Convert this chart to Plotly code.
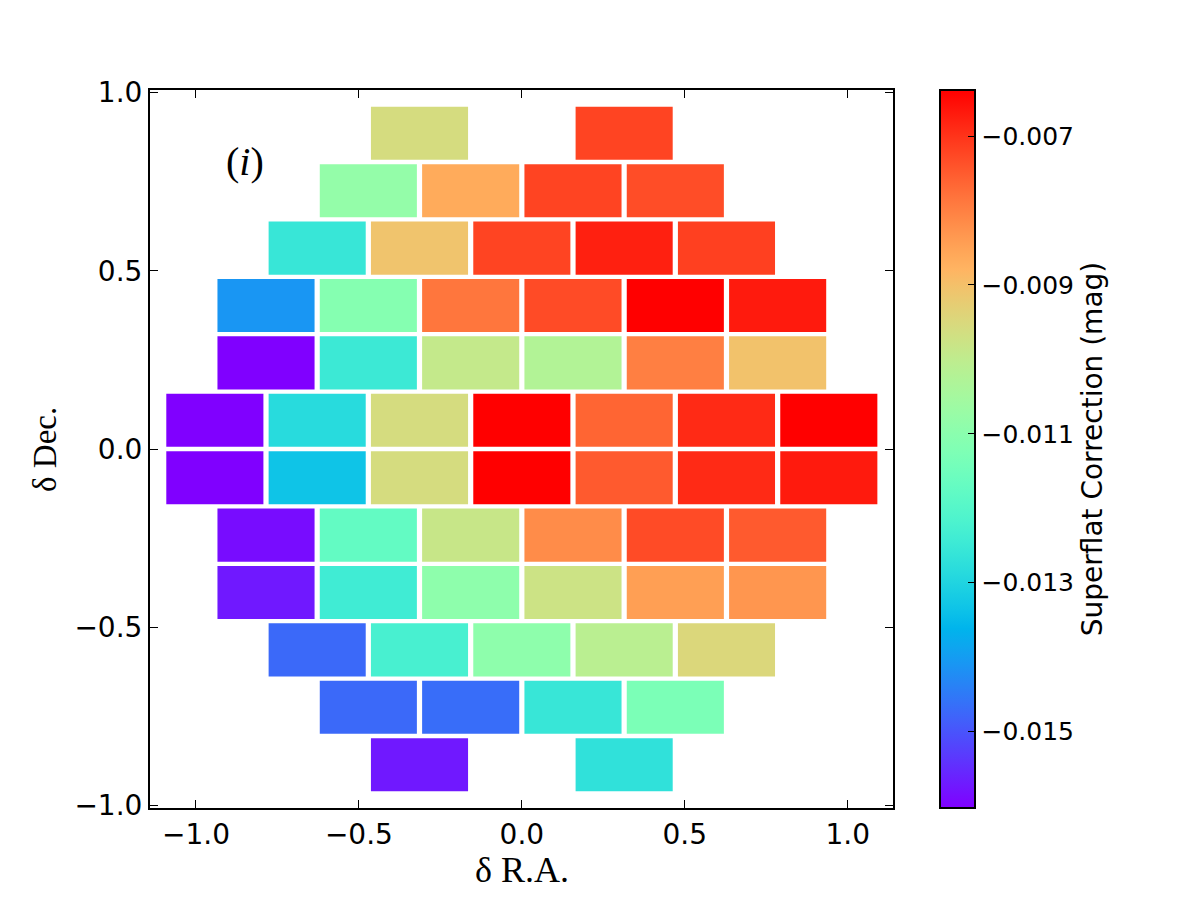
import math
import plotly.graph_objects as go
from plotly.colors import sample_colorscale

# ---------------- data ----------------
row_y = [0.8855, 0.7245, 0.5635, 0.4025, 0.2415, 0.0805,
         -0.0805, -0.2415, -0.4025, -0.5635, -0.7245, -0.8855]

cols_2 = [-0.314, 0.314]
cols_4 = [-0.471, -0.157, 0.157, 0.471]
cols_5 = [-0.628, -0.314, 0.0, 0.314, 0.628]
cols_6 = [-0.785, -0.471, -0.157, 0.157, 0.471, 0.785]
cols_7 = [-0.942, -0.628, -0.314, 0.0, 0.314, 0.628, 0.942]
row_cols = [cols_2, cols_4, cols_5, cols_6, cols_6, cols_7,
            cols_7, cols_6, cols_6, cols_5, cols_4, cols_2]

row_values = [
    [-0.00959, -0.00721],
    [-0.01082, -0.00863, -0.00721, -0.00732],
    [-0.01256, -0.00908, -0.00721, -0.00677, -0.00715],
    [-0.01410, -0.01111, -0.00785, -0.00730, -0.00638, -0.00669],
    [-0.01603, -0.01248, -0.00991, -0.01024, -0.00799, -0.00903],
    [-0.01603, -0.01285, -0.00959, -0.00638, -0.00762, -0.00689, -0.00638],
    [-0.01603, -0.01333, -0.00959, -0.00638, -0.00749, -0.00689, -0.00669],
    [-0.01589, -0.01174, -0.00985, -0.00817, -0.00730, -0.00749],
    [-0.01574, -0.01241, -0.01092, -0.00976, -0.00845, -0.00831],
    [-0.01473, -0.01227, -0.01092, -0.01010, -0.00947],
    [-0.01473, -0.01468, -0.01256, -0.01130],
    [-0.01574, -0.01270],
]

x_ticks = [-1.0, -0.5, 0.0, 0.5, 1.0]
y_ticks = [-1.0, -0.5, 0.0, 0.5, 1.0]
cbar_ticks = [-0.015, -0.013, -0.011, -0.009, -0.007]
vmin, vmax = -0.01603, -0.00638

# ---------------- style constants ----------------
BOX_W = 0.298
BOX_H = 0.149

# matplotlib 'rainbow' colormap
def rainbow(t):
    r = min(1.0, abs(2 * t - 0.5))
    g = math.sin(math.pi * t)
    b = math.cos(math.pi * t / 2)
    return "rgb(%d,%d,%d)" % (round(r * 255), round(g * 255), round(b * 255))

N = 40
colorscale = [[i / N, rainbow(i / N)] for i in range(N + 1)]

fig = go.Figure()

all_x, all_y, all_v = [], [], []
for yc, xs, vs in zip(row_y, row_cols, row_values):
    for xc, v in zip(xs, vs):
        t = (v - vmin) / (vmax - vmin)
        t = min(1.0, max(0.0, t))
        col = sample_colorscale(colorscale, [t])[0]
        x0, x1 = xc - BOX_W / 2, xc + BOX_W / 2
        y0, y1 = yc - BOX_H / 2, yc + BOX_H / 2
        fig.add_trace(go.Scatter(
            x=[x0, x1, x1, x0, x0], y=[y0, y0, y1, y1, y0],
            mode="lines", fill="toself", fillcolor=col,
            line=dict(width=0, color=col), hoverinfo="skip",
            showlegend=False))
        all_x.append(xc); all_y.append(yc); all_v.append(v)

# invisible markers carrying the colorbar
fig.add_trace(go.Scatter(
    x=all_x, y=all_y, mode="markers",
    marker=dict(size=0.1, opacity=0, color=all_v, colorscale=colorscale,
                cmin=vmin, cmax=vmax, showscale=True,
                colorbar=dict(
                    x=(940 - 150) / 743, xanchor="left", xpad=0,
                    y=0.5, yanchor="middle", len=1.0, lenmode="fraction", ypad=0,
                    thickness=35, outlinewidth=2, outlinecolor="black",
                    ticks="inside", ticklen=8, tickcolor="black", tickwidth=1,
                    tickvals=cbar_ticks, tickformat=".3f",
                    tickfont=dict(family="DejaVu Sans", size=25, color="black"),
                    title=dict(text="Superflat Correction (mag)", side="right",
                               font=dict(family="DejaVu Sans", size=28, color="black")),
                )),
    hoverinfo="skip", showlegend=False))

axis_common = dict(
    showgrid=False, zeroline=False, showline=True, linecolor="black", linewidth=2,
    mirror="ticks", ticks="inside", ticklen=8, tickwidth=1, tickcolor="black",
    tickformat=".1f", tickfont=dict(family="DejaVu Sans", size=28, color="black"),
)

fig.update_layout(
    width=1200, height=900,
    margin=dict(l=150, r=307, t=90, b=92),
    paper_bgcolor="white", plot_bgcolor="white",
    xaxis=dict(range=[-1.141, 1.139], tickvals=x_ticks, **axis_common),
    yaxis=dict(range=[-1.007, 1.007], tickvals=y_ticks, **axis_common),
    annotations=[
        dict(text="δ R.A.", xref="paper", yref="paper", x=0.5, y=(808 - 870) / 718,
             xanchor="center", yanchor="middle", showarrow=False,
             font=dict(family="Liberation Serif", size=36, color="black")),
        dict(text="δ Dec.", xref="paper", yref="paper", x=(45 - 150) / 743, y=0.5,
             xanchor="center", yanchor="middle", showarrow=False, textangle=-90,
             font=dict(family="Liberation Serif", size=33, color="black")),
        dict(text="(<i>i</i>)", xref="x", yref="y", x=-0.85, y=0.806,
             xanchor="center", yanchor="middle", showarrow=False,
             font=dict(family="Liberation Serif", size=40, color="black")),
    ],
)

fig.write_html("out.html")
